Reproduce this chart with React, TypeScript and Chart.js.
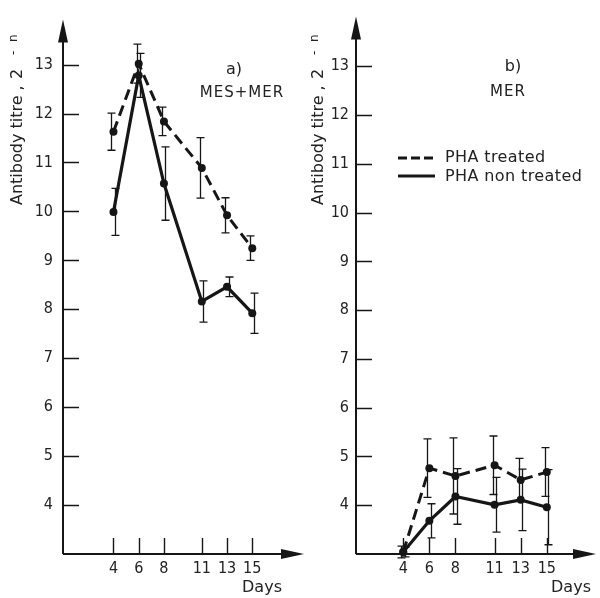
import React, { useEffect, useRef } from "react";
import { Chart, registerables } from "chart.js";

Chart.register(...registerables);

// ---------- data ----------
const days = [4, 6, 8, 11, 13, 15];
const yTickValues = [4, 5, 6, 7, 8, 9, 10, 11, 12, 13];
const seriesLabels = ["PHA treated", "PHA non treated"];

const panelATreated = [11.63, 13.02, 11.84, 10.89, 9.92, 9.25];
const panelATreatedErr = [0.38, 0.4, 0.29, 0.62, 0.36, 0.25];
const panelANon = [9.99, 12.78, 10.57, 8.16, 8.46, 7.92];
const panelANonErr = [0.48, 0.45, 0.75, 0.42, 0.2, 0.41];

const panelBTreated = [3.04, 4.76, 4.6, 4.82, 4.52, 4.68];
const panelBTreatedErr = [0.12, 0.6, 0.78, 0.6, 0.44, 0.5];
const panelBNon = [3.04, 3.68, 4.18, 4.01, 4.11, 3.96];
const panelBNonErr = [0.1, 0.35, 0.57, 0.56, 0.63, 0.77];

// ---------- styles ----------
const INK = "#161616";
const TEXT = "#222222";
const FONT = '"DejaVu Sans", "Noto Sans", sans-serif';
const TICK_FONT = '"DejaVu Sans Condensed", "DejaVu Sans", sans-serif';

type Panel = {
  key: string;
  treated: number[];
  treatedErr: number[];
  non: number[];
  nonErr: number[];
  left: number;
  width: number;
  xMin: number;
  xMax: number;
  yMax: number;
  topPad: number;
  axisWidth: number;
  tickPad: number;
  tag: string;
  group: string;
  tagPos: [number, number];
  groupPos: [number, number];
  titleX: number;
  daysPos: [number, number];
  legend: boolean;
};

const panels: Panel[] = [
  {
    key: "a",
    treated: panelATreated,
    treatedErr: panelATreatedErr,
    non: panelANon,
    nonErr: panelANonErr,
    left: 0,
    width: 308,
    xMin: 0,
    xMax: 19.1,
    yMax: 13.92,
    topPad: 10,
    axisWidth: 63,
    tickPad: 10,
    tag: "a)",
    group: "MES+MER",
    tagPos: [234, 70],
    groupPos: [242, 93],
    titleX: 18,
    daysPos: [262, 588],
    legend: false,
  },
  {
    key: "b",
    treated: panelBTreated,
    treatedErr: panelBTreatedErr,
    non: panelBNon,
    nonErr: panelBNonErr,
    left: 300,
    width: 300,
    xMin: 0.38,
    xMax: 18.77,
    yMax: 14.02,
    topPad: 5,
    axisWidth: 56,
    tickPad: 7,
    tag: "b)",
    group: "MER",
    tagPos: [213, 67],
    groupPos: [208, 92],
    titleX: 19,
    daysPos: [271, 588],
    legend: true,
  },
];

function text(
  ctx: CanvasRenderingContext2D,
  s: string,
  x: number,
  y: number,
  size: number,
  align: CanvasTextAlign = "center",
  spacing = 0
) {
  ctx.save();
  ctx.fillStyle = TEXT;
  ctx.font = `${size}px ${FONT}`;
  (ctx as any).letterSpacing = `${spacing}px`;
  ctx.textAlign = align;
  ctx.textBaseline = "middle";
  ctx.fillText(s, x, y);
  ctx.restore();
}

function decorPlugin(p: Panel) {
  return {
    id: "decor_" + p.key,
    beforeDatasetsDraw(chart: any) {
      const { ctx } = chart;
      const xs = chart.scales.x;
      const ys = chart.scales.y;
      ctx.save();
      ctx.strokeStyle = INK;
      ctx.lineWidth = 1.3;
      const sets: [number[], number[], number][] = [
        [p.treated, p.treatedErr, -2],
        [p.non, p.nonErr, 1.5],
      ];
      for (const [vals, errs, off] of sets) {
        vals.forEach((v, i) => {
          const px = Math.round(xs.getPixelForValue(days[i]) + off) + 0.5;
          const t = ys.getPixelForValue(v + errs[i]);
          const b = ys.getPixelForValue(v - errs[i]);
          ctx.beginPath();
          ctx.moveTo(px, t);
          ctx.lineTo(px, b);
          ctx.moveTo(px - 4, t);
          ctx.lineTo(px + 4, t);
          ctx.moveTo(px - 4, b);
          ctx.lineTo(px + 4, b);
          ctx.stroke();
        });
      }
      ctx.restore();
    },
    afterDraw(chart: any) {
      const { ctx, chartArea: ca } = chart;
      const xs = chart.scales.x;
      const ys = chart.scales.y;
      ctx.save();
      ctx.strokeStyle = INK;
      ctx.fillStyle = INK;
      ctx.lineWidth = 2;
      // axes
      ctx.beginPath();
      ctx.moveTo(ca.left, ca.bottom);
      ctx.lineTo(ca.left, ca.top + 20);
      ctx.moveTo(ca.left, ca.bottom);
      ctx.lineTo(ca.right - 20, ca.bottom);
      ctx.stroke();
      // arrows
      ctx.beginPath();
      ctx.moveTo(ca.left, ca.top);
      ctx.lineTo(ca.left - 5, ca.top + 23);
      ctx.lineTo(ca.left + 5, ca.top + 23);
      ctx.closePath();
      ctx.fill();
      ctx.beginPath();
      ctx.moveTo(ca.right, ca.bottom);
      ctx.lineTo(ca.right - 23, ca.bottom - 5);
      ctx.lineTo(ca.right - 23, ca.bottom + 5);
      ctx.closePath();
      ctx.fill();
      // inward tick marks
      ctx.lineWidth = 1.4;
      ctx.beginPath();
      for (const v of yTickValues) {
        const py = Math.round(ys.getPixelForValue(v)) + 0.5;
        ctx.moveTo(ca.left, py);
        ctx.lineTo(ca.left + 16, py);
      }
      for (const d of days) {
        const px = Math.round(xs.getPixelForValue(d)) + 0.5;
        ctx.moveTo(px, ca.bottom);
        ctx.lineTo(px, ca.bottom - 16);
      }
      ctx.stroke();
      ctx.restore();

      // y-axis title (rotated)
      ctx.save();
      ctx.fillStyle = TEXT;
      ctx.translate(p.titleX, 205);
      ctx.rotate(-Math.PI / 2);
      ctx.textBaseline = "middle";
      ctx.textAlign = "left";
      ctx.font = `16px ${FONT}`;
      ctx.fillText("Antibody titre ,", 0, 0);
      ctx.fillText("2", 126, 0);
      ctx.font = `12px ${FONT}`;
      ctx.fillText("-", 150, -4);
      ctx.fillText("n", 163, -4);
      ctx.restore();

      text(ctx, p.tag, p.tagPos[0], p.tagPos[1], 16);
      text(ctx, p.group, p.groupPos[0], p.groupPos[1], 15, "center", 1);
      text(ctx, "Days", p.daysPos[0], p.daysPos[1], 16);

      if (p.legend) {
        ctx.save();
        ctx.strokeStyle = INK;
        ctx.lineWidth = 3;
        ctx.setLineDash([9, 4]);
        ctx.beginPath();
        ctx.moveTo(98, 158);
        ctx.lineTo(134, 158);
        ctx.stroke();
        ctx.setLineDash([]);
        ctx.beginPath();
        ctx.moveTo(98, 176);
        ctx.lineTo(135, 176);
        ctx.stroke();
        ctx.restore();
        text(ctx, seriesLabels[0], 145, 158, 16, "left", 0.4);
        text(ctx, seriesLabels[1], 145, 177, 16, "left", 0.4);
      }
    },
  };
}

function PanelChart({ p }: { p: Panel }) {
  const ref = useRef<HTMLCanvasElement | null>(null);
  useEffect(() => {
    if (!ref.current) return;
    const chart = new Chart(ref.current, {
      type: "line",
      data: {
        datasets: [
          {
            label: seriesLabels[0],
            data: days.map((d, i) => ({ x: d, y: p.treated[i] })),
            borderColor: INK,
            backgroundColor: INK,
            borderWidth: 3,
            borderDash: [11, 6],
            pointRadius: 4,
            pointBackgroundColor: INK,
            pointBorderWidth: 0,
            tension: 0,
            clip: false as any,
          },
          {
            label: seriesLabels[1],
            data: days.map((d, i) => ({ x: d, y: p.non[i] })),
            borderColor: INK,
            backgroundColor: INK,
            borderWidth: 3.2,
            pointRadius: 4,
            pointBackgroundColor: INK,
            pointBorderWidth: 0,
            tension: 0,
            clip: false as any,
          },
        ],
      },
      options: {
        animation: false,
        responsive: false,
        events: [],
        layout: { padding: { top: p.topPad, left: 0, right: 0, bottom: 0 } },
        plugins: {
          legend: { display: false },
          tooltip: { enabled: false },
          title: { display: false },
        },
        scales: {
          x: {
            type: "linear",
            min: p.xMin,
            max: p.xMax,
            grid: { display: false, drawTicks: false },
            border: { display: false },
            afterBuildTicks: (s: any) => {
              s.ticks = days.map((v) => ({ value: v }));
            },
            afterFit: (s: any) => {
              s.height = 44;
            },
            ticks: {
              autoSkip: false,
              maxRotation: 0,
              padding: 5,
              color: TEXT,
              font: { family: TICK_FONT, size: 16 },
              callback: (v: any) => String(v),
            },
          },
          y: {
            type: "linear",
            min: 3,
            max: p.yMax,
            grid: { display: false, drawTicks: false },
            border: { display: false },
            afterBuildTicks: (s: any) => {
              s.ticks = yTickValues.map((v) => ({ value: v }));
            },
            afterFit: (s: any) => {
              s.width = p.axisWidth;
            },
            ticks: {
              autoSkip: false,
              padding: p.tickPad,
              color: TEXT,
              font: { family: TICK_FONT, size: 16 },
              callback: (v: any) => String(v),
            },
          },
        },
      },
      plugins: [decorPlugin(p)],
    } as any);
    return () => chart.destroy();
  }, [p]);
  return (
    <canvas
      ref={ref}
      width={p.width}
      height={598}
      style={{ position: "absolute", left: p.left, top: 0, width: p.width, height: 598 }}
    />
  );
}

export default function App() {
  return (
    <div
      style={{
        position: "absolute",
        left: 0,
        top: 0,
        width: 600,
        height: 598,
        background: "#ffffff",
        overflow: "hidden",
      }}
    >
      {panels.map((p) => (
        <PanelChart key={p.key} p={p} />
      ))}
    </div>
  );
}
